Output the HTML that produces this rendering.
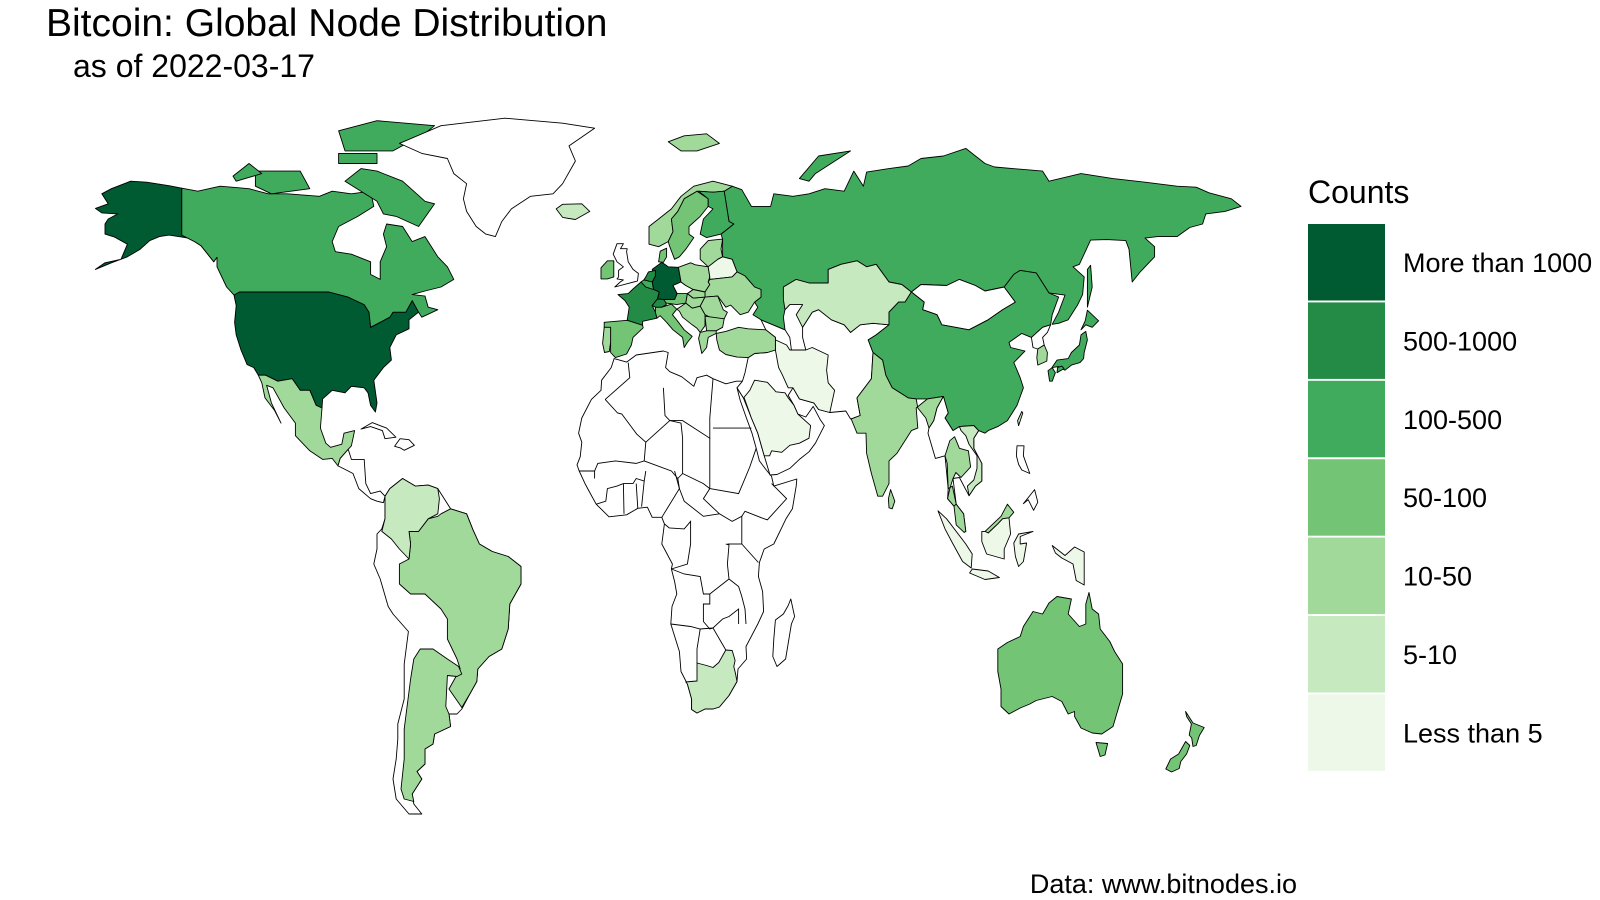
<!DOCTYPE html>
<html><head><meta charset="utf-8"><style>
html,body{margin:0;padding:0;background:#fff;}
svg{display:block;font-family:"Liberation Sans",Arial,sans-serif;}
</style></head><body>
<svg id="map" width="1600" height="900" viewBox="0 0 1600 900" xmlns="http://www.w3.org/2000/svg">
<rect width="1600" height="900" fill="#fff"/>
<text x="46" y="36" font-size="39">Bitcoin: Global Node Distribution</text>
<text x="73" y="77" font-size="32">as of 2022-03-17</text>
<g id="countries"></g>
<g id="legend">
<text x="1308" y="203" font-size="32">Counts</text>
</g>
<text x="1297" y="893" font-size="27" text-anchor="end">Data: www.bitnodes.io</text>
</svg>
<script>
// legend categories & colours
const legendLabels = ["More than 1000","500-1000","100-500","50-100","10-50","5-10","Less than 5"];
const legendColors = ["#005a32","#238b45","#41ab5d","#74c476","#a1d99b","#c7e9c0","#edf8e9"];
// category index per country (-1 = no data)
const countryNames = ["usa","alaska","canada","baffin","victoria-island","ellesmere","banks-island","devon-island","greenland","iceland","mexico","central-america","cuba","hispaniola","south-america","brazil","argentina","colombia-venezuela","africa","south-africa","madagascar","mideast-central-asia","saudi-arabia","iran","turkey","russia","novaya-zemlya","sakhalin","kazakhstan","mongolia","china","taiwan","north-korea","south-korea","japan-honshu","japan-kyushu","japan-hokkaido","japan-shikoku","india","sri-lanka","se-asia","thailand","vietnam","malaysia-peninsula","malaysia-borneo","sumatra","java","borneo-indonesia","sulawesi","new-guinea","luzon","mindanao","australia","tasmania","nz-north","nz-south","svalbard","germany","france","netherlands","belgium","uk","ireland","spain","portugal","italy","switzerland","austria","czechia","poland","denmark","norway","sweden","finland","baltics","belarus","ukraine","hungary","romania","bulgaria","greece","yugoslavia","slovakia"];
const countryCounts = [0,0,2,2,2,2,2,2,-1,5,4,-1,-1,-1,-1,4,4,5,-1,5,-1,-1,6,6,4,2,2,2,5,-1,2,5,-1,4,2,2,2,2,4,4,-1,4,5,4,4,6,6,6,6,6,-1,-1,3,3,3,3,4,0,1,1,2,-1,3,3,4,3,1,3,-1,4,3,4,3,2,4,6,4,4,4,4,4,4,4];
const shapes = {
usa:[[-124.7,48.4],[-123,49],[-95,49],[-89,48],[-84,46.5],[-82.5,45],[-82,42],[-79,43],[-76,44],[-75,45],[-71,45],[-69,47.3],[-67,45],[-70,43.5],[-70,41.7],[-74,40.5],[-76,38],[-75.5,35.5],[-78,34],[-81,31.5],[-80,27],[-80.5,25.2],[-82,26.5],[-82.8,29],[-84,30],[-88,30.3],[-90,29],[-94,29.5],[-97,27.8],[-97.2,26],[-99,26.5],[-101,29.5],[-104,29.5],[-106.5,31.8],[-111,31.3],[-114.8,32.5],[-117.1,32.5],[-118.5,34],[-120.6,34.6],[-122.5,37.5],[-124,40.5],[-124.5,43],[-124,46.3]],
alaska:[[-141,69.6],[-141,60.3],[-137,59],[-135,58.2],[-131,55],[-130,55.9],[-133,58.5],[-137,59.5],[-140,59.8],[-145,60.3],[-148,60],[-151,59.2],[-154,57.5],[-158,56],[-163,54.8],[-168,53.5],[-165,54.8],[-160,55.5],[-158,58.5],[-162,59.9],[-165,60.5],[-165,62.5],[-164,63.5],[-161,64.5],[-166,64.7],[-168,65.6],[-164,66.5],[-166,68.5],[-163,69.5],[-157,71],[-152,70.8],[-145,70.1]],
canada:[[-141,69.6],[-136,69],[-129,70],[-120,69.5],[-114,68.5],[-108,68.5],[-98,68],[-94,69],[-88,68.5],[-82,69],[-81,66],[-86,64],[-92,62],[-94,59],[-93,57],[-88,56.5],[-82,55],[-82,52.5],[-79,51.5],[-79,55],[-77,58],[-78,60.5],[-77,62.5],[-72,62],[-69,59],[-65,60],[-61,56],[-58,54],[-56,51.5],[-60,50],[-65,49.2],[-69,48.5],[-65,48.2],[-64,46],[-61,45.5],[-66,44],[-67,45],[-69,47.3],[-71,45],[-75,45],[-76,44],[-79,43],[-82,42],[-82.5,45],[-84,46.5],[-89,48],[-95,49],[-123,49],[-124.7,48.4],[-127,50],[-130,54],[-130,55.9],[-131,55],[-135,58.2],[-137,59],[-141,60.3]],
baffin:[[-80,73],[-72,71],[-65,67],[-62,66.5],[-67,62],[-74,64],[-78,64.5],[-80,67],[-90,71],[-85,73.5]],
"victoria-island":[[-118,73],[-104,73],[-101,69.5],[-113,68.5],[-118,70]],
ellesmere:[[-90,77],[-75,77],[-65,80.5],[-62,82],[-80,83],[-92,81]],
"banks-island":[[-125,72],[-120,74.5],[-116,72.5],[-124,71]],
"devon-island":[[-92,76.5],[-80,76.5],[-80,74.5],[-92,74.5]],
greenland:[[-73,78.5],[-60,82],[-40,83.5],[-22,82.5],[-12,81.5],[-20,78],[-18,75],[-22,70.5],[-25,68.5],[-32,68],[-38,65.5],[-41,63],[-43,60],[-46,60.5],[-49,62],[-52,65],[-53,67.5],[-52,70.5],[-56,72.5],[-58,75.5],[-66,76.5]],
iceland:[[-24,65.5],[-22,66.4],[-16,66.5],[-13.5,65],[-18,63.4],[-22,63.8]],
mexico:[[-117.1,32.5],[-114.8,32.5],[-111,31.3],[-106.5,31.8],[-104,29.5],[-101,29.5],[-99,26.5],[-97.2,26],[-97.7,22],[-96,19],[-94.5,18.2],[-91,18.8],[-90.3,21],[-87,21.5],[-88,18.5],[-89,17.8],[-91.5,16],[-92.2,14.5],[-94,16],[-97,15.8],[-101,17.5],[-105.5,20.5],[-105.5,23],[-109,26],[-112.5,30],[-114.5,30.5],[-113,27],[-110,23],[-112,25.5],[-115,28],[-116,31]],
"central-america":[[-92.2,14.5],[-91.5,16],[-89,17.8],[-88,15.8],[-84,15.8],[-83.5,11],[-82,9],[-79,9.5],[-77.5,8.5],[-78,7.2],[-80,7.5],[-82,8],[-85.7,10],[-87.5,13],[-90,13.8]],
cuba:[[-85,21.8],[-81.5,23.1],[-77,22],[-74.1,20.2],[-77.5,19.9],[-78.3,21.5],[-82,22.3]],
hispaniola:[[-74.5,18.4],[-72.8,19.9],[-70,19.7],[-68.3,18.6],[-71.5,17.6],[-72.8,18.1]],
"south-america":[[-77.5,8.5],[-76,10],[-72,12],[-68,10.5],[-64,10.7],[-61,10],[-57,6],[-52,5],[-50,1.8],[-48,-1],[-44,-2.5],[-39,-3.5],[-35,-5.5],[-35,-9],[-38.5,-13],[-39,-18],[-41,-22],[-45,-23.5],[-48.5,-26],[-48.8,-28.5],[-51,-31],[-53.5,-34],[-55,-35],[-57.5,-35],[-57,-37.5],[-62,-39],[-62.5,-41],[-65,-42],[-65,-45],[-67.5,-46.5],[-66,-48],[-69,-51],[-68.5,-53],[-66,-55],[-70,-55],[-74,-52],[-75,-48],[-74,-44],[-73.5,-40],[-73.5,-37],[-71.5,-32],[-71.5,-25],[-70.2,-18.5],[-75,-15],[-76.5,-13.5],[-79,-8],[-81,-5],[-80,-2],[-80,1],[-78.5,2],[-77.5,4],[-77.5,7]],
brazil:[[-60,5],[-57,6],[-52,5],[-50,1.8],[-48,-1],[-44,-2.5],[-39,-3.5],[-35,-5.5],[-35,-9],[-38.5,-13],[-39,-18],[-41,-22],[-45,-23.5],[-48.5,-26],[-48.8,-28.5],[-51,-31],[-53.5,-33.7],[-57.5,-30],[-54,-26],[-55,-24],[-58,-20],[-58,-16],[-60,-14],[-65,-11],[-69.5,-11],[-73,-9],[-73,-5],[-70,-4],[-69.5,-1],[-70,1.5],[-67,1.5],[-64,4],[-61,4.5]],
argentina:[[-53.5,-27],[-55,-27.5],[-58,-27.3],[-58.5,-33.5],[-57.5,-35],[-57,-37.5],[-62,-39],[-62.5,-41],[-65,-42],[-65,-45],[-67.5,-46.5],[-66,-48],[-69,-51],[-68.5,-52.5],[-71.5,-52],[-72.5,-50],[-71.5,-44],[-71.5,-38],[-70.5,-33],[-69.5,-28],[-68.5,-24],[-66.5,-22],[-62.5,-22],[-58,-24],[-54.5,-25.5]],
"colombia-venezuela":[[-77.5,8.5],[-76,10],[-72,12],[-68,10.5],[-64,10.7],[-61,10],[-60.5,8],[-61,5],[-64,4],[-67,1.5],[-70,1.5],[-69.5,-1],[-70,-4],[-73,-2],[-75.5,0],[-78.5,1.5],[-77.5,4],[-77.5,7]],
africa:[[-17,21],[-16,24],[-13,27.7],[-10,29.5],[-9.8,31.5],[-6.8,34],[-5.9,35.8],[-2,35.1],[1,36.5],[9.5,37.3],[11,37],[10.2,34],[11.5,33.2],[15.2,32.2],[19,30.3],[20,32],[23,32.5],[25,31.8],[29,30.8],[32.3,31.3],[34.2,31.3],[34.5,28],[32.5,30],[33.5,27.5],[35.5,23.9],[37.2,21],[38.5,18],[39.5,15.5],[41.5,13.8],[43.3,12.4],[44,10.5],[51.2,11.9],[51,10.5],[49.8,6],[47.8,4],[44,-1],[41,-2],[39.5,-4.7],[39.2,-7.5],[40.5,-10.5],[40.8,-14.5],[39,-17],[35.3,-21.5],[35.5,-24],[32.8,-26],[32.5,-28.5],[30,-31.3],[27,-33.6],[25,-34],[22.5,-34],[20,-34.8],[18.3,-34.1],[18.3,-32],[17,-29],[15,-26.5],[14.5,-22.5],[11.8,-17],[12.2,-13.5],[13.7,-11],[13,-8.5],[12,-6],[12.3,-5],[9,-1],[9.8,3],[9,4.3],[6,4.3],[4.5,6.3],[1.5,6.1],[-2,4.8],[-7.5,4.4],[-11.5,6.9],[-13.3,9],[-15,11],[-16.8,13.5],[-17.5,14.7],[-16.5,16.3],[-16,19.2]],
"south-africa":[[16.5,-28.6],[17,-29],[18.3,-32],[18.3,-34.1],[20,-34.8],[22.5,-34],[25,-34],[27,-33.6],[30,-31.3],[32.5,-28.5],[32,-26.8],[31.5,-25.5],[31.9,-24.3],[31,-22.3],[29,-22.2],[26.8,-24.7],[25,-25.7],[23,-25.3],[20,-24.8],[20,-28.4],[18,-28.5]],
madagascar:[[49.3,-12],[50.5,-15.5],[49.5,-17],[47.7,-24],[45,-25.5],[43.7,-23.5],[44,-20],[44.5,-16.2],[47,-15],[48.5,-13.3]],
"mideast-central-asia":[[36,36],[35,33],[34.2,31.3],[32.5,30],[34.5,28],[37,24],[39,21],[41,16.5],[42.8,12.7],[45,12.8],[49,14],[52,15.8],[55,17.3],[57,19],[59.8,22.5],[58.5,23.7],[56.3,26.3],[54,24.2],[51.5,24.8],[50.3,26.5],[48.5,28.5],[50,30],[52,27.8],[56.5,27],[58,25.7],[61.5,25.1],[66.5,25.4],[68,23.8],[71,24.5],[70,28],[74.5,31.8],[75,37],[73.5,39.5],[76,40.5],[80,42.5],[75,42.8],[71,42.5],[68,41],[66,42.5],[62,43.5],[58,45.5],[56,45],[53,42],[53,40],[54,37.5],[49.5,37.5],[49,40],[47.5,41.5],[40,43.5],[41.5,41.5],[44.5,40],[44.5,37.5],[42,37],[38,36.8]],
"saudi-arabia":[[36.5,29.5],[38,31.5],[42,31.1],[44.7,29.2],[47.5,29],[48.5,28],[50.3,26.5],[51.5,24.8],[55.5,22.5],[55,20],[52,19],[49,18.6],[46.5,17.2],[43.3,17.5],[42.7,16.5],[41,16.5],[39,21],[37,24],[34.7,28.1]],
iran:[[44.5,39.5],[48,38.5],[49,37.5],[54,37.5],[56,38],[61,36.5],[60.5,33.5],[61,31],[63,29.5],[61.5,25.1],[58,25.7],[56.5,27],[52,27.8],[50,30],[48.5,30],[46.5,32.8],[45.5,34],[44.5,37.5]],
turkey:[[26,40.8],[29,41.2],[33,42],[36,41.7],[41.5,41.5],[44.5,40],[44.5,37.5],[42,37],[38,36.8],[36,36],[32.5,36.1],[29,36.6],[27,37.5],[26.2,39.5]],
russia:[[28,59.5],[28,56],[31,55.5],[32.5,53],[35,52.2],[38,50],[40,49.5],[40,48],[38,47],[39,46],[37.5,44.5],[40,43.5],[47.5,41.5],[47,44],[47.5,45.5],[49,46.5],[47,48],[47,50],[51,51.5],[55,50.8],[61,50.8],[61,53.5],[65,54.5],[70,55.2],[73,54],[76,54.5],[80,51],[84,50.5],[87,49],[90,50.5],[98,50.3],[102,51.5],[107,50.3],[110,49.2],[116,50],[119,52.5],[121,53.3],[126,52.8],[130,48.8],[135,48.4],[133,45],[131,42.6],[133,42.8],[136,43.5],[139,46.5],[140.5,48.5],[141,52],[137.5,54],[139.5,54.5],[143,59.3],[148,59.4],[154,59.2],[155,57.5],[156,51],[158.5,53],[163,56],[163,58],[160,59.7],[164,60],[170,60],[174,61.8],[178,62.5],[179,64.5],[185,65],[190,66],[187,67.5],[180,68.7],[176,69.8],[170,70],[160,70.8],[150,71.5],[140,72.5],[130,71],[128,73],[113,73.8],[110,74.5],[104,77.5],[97,76],[90,75.5],[86,74],[80,73.5],[73,72.8],[72,70],[69,73],[66,69],[60,69.5],[55,68.5],[50,68],[44,68.5],[43,66],[37,66],[34,69.3],[31,70],[28.5,69],[29,67],[30,63],[31.5,62.5],[27.5,60.5]],
"novaya-zemlya":[[52,71.5],[58,76],[68,77],[57,72.5],[55,71]],
sakhalin:[[142,46],[143.5,50],[143,54.3],[142,53.5],[142,49]],
kazakhstan:[[47,50],[51,51.5],[55,50.8],[61,50.8],[61,53.5],[65,54.5],[70,55.2],[73,54],[76,54.5],[80,51],[84,50.5],[87,49],[85,47],[83,47],[80,45],[80,42.5],[75,42.8],[71,42.5],[68,41],[66,42.5],[62,43.5],[58,45.5],[56,45],[53,42],[51,44.5],[53,46.5],[49,46.5],[47.5,45.5],[47,47.5]],
mongolia:[[87,49],[90,50.5],[98,50.3],[102,51.5],[107,50.3],[110,49.2],[116,50],[119.5,47],[115.5,45.5],[111,43.5],[105,41.5],[96.5,42.5],[95,44.5],[90.5,45.5],[91,47]],
china:[[73.5,39.5],[75,37],[78,35.5],[79,32.5],[81,30],[86,28],[88.5,27.8],[92,27.8],[97,28.3],[98.5,25],[97.5,24],[100,21.5],[102,22.3],[106.5,22.5],[108,21.5],[110,21],[111,21.5],[114,22.3],[117,23.5],[120,26.5],[122,30],[121,32],[119,35],[122.5,37.3],[118,38],[117.5,39],[121.5,40.8],[124.5,40],[128,42],[130.5,42.5],[131,44.5],[133,48],[130,48.8],[126,52.8],[121,53.3],[119,52.5],[116,50],[119.5,47],[115.5,45.5],[111,43.5],[105,41.5],[96.5,42.5],[95,44.5],[90.5,45.5],[91,47],[87,49],[85,47],[83,47],[80,45],[80,42.5],[76,40.5]],
taiwan:[[120.5,22.5],[121.8,25],[121.5,25.3],[120.2,23.5]],
"north-korea":[[124.5,40],[128,42],[130.5,42.5],[129.5,41],[128,40],[128.5,38.5],[126.5,37.7],[125,38]],
"south-korea":[[126.5,34.5],[129.3,35.3],[129.5,37],[128.5,38.5],[126.5,37.7],[126.2,36]],
"japan-honshu":[[130.9,34],[132.5,35.5],[136,35.8],[137,37],[139.5,38.5],[140,40.5],[141.5,41.2],[142,39.5],[141,37],[140.8,35.8],[139.7,35],[137,34.5],[135,33.5],[133,34.2]],
"japan-kyushu":[[129.7,33.4],[131,34],[132,33],[131,31.3],[130.2,31.3]],
"japan-hokkaido":[[140,41.5],[141.5,42.5],[143.5,42],[145.5,43.3],[142,45.4],[141.3,43.3]],
"japan-shikoku":[[132.5,33],[134.7,33.8],[134,34.3],[132.7,34]],
india:[[68.2,23.8],[70,21],[72.8,21],[73,17],[74.5,13],[76.5,8.5],[78,8.5],[80,11],[80,15.5],[82.5,17],[87,21.5],[89,22],[88.5,26],[92,27.8],[97,28.3],[95,26],[94,23.5],[92.5,22],[91.5,24],[89,26],[88.5,27.8],[86,28],[81,30],[79,32.5],[78,35.5],[75,37],[74.5,31.8],[70,28],[71,24.5]],
"sri-lanka":[[79.8,8],[80.5,9.8],[81.8,7.5],[81,6],[80,6.2]],
"se-asia":[[92.2,21],[94.5,16],[97.5,16.5],[98.5,10],[98.3,8],[100.3,6.5],[103.5,1.3],[104,1.5],[103.3,5],[101,6.9],[100,12],[102,12.2],[105,8.6],[107,10.5],[109,11.5],[109,15],[106.5,18],[106.5,20],[108,21.5],[106.5,22.5],[102,22.3],[100,21.5],[97.5,24],[98.5,25],[97,28.3],[95,26],[94,23.5],[92.5,22]],
thailand:[[97.5,16.5],[99,19.5],[100.5,20.3],[102,18],[104.8,17.5],[105.5,14.3],[102.5,12.2],[100.9,13.2],[100,12],[99,10],[98.3,8],[100.3,6.5],[101,6.9],[99.8,10.5],[98.5,10],[98.2,15]],
vietnam:[[102,22.3],[106.5,22.5],[108,21.5],[106.5,20],[106.5,18],[109,15],[109,11.5],[107,10.5],[105,8.6],[104.5,10.5],[106.5,11.7],[107.5,14],[107.5,16.5],[105,18.8],[104,20.5],[102.5,21.5]],
"malaysia-peninsula":[[100.3,6.5],[101,6.9],[103.3,5],[104,1.5],[103.5,1.3],[101,2.8]],
"malaysia-borneo":[[110,1.5],[115,4.5],[117,6.9],[119,5.3],[117.5,4.2],[115.5,4],[114,3],[111,1.2]],
sumatra:[[95.3,5.6],[98,4],[104,-1],[106,-3],[105.7,-5.8],[103,-4.5],[100,-1],[97.5,2]],
java:[[105.2,-6.8],[106,-6],[111,-6.4],[114.5,-7.7],[110,-8.1]],
"borneo-indonesia":[[109,1.5],[110,1.5],[111,1.2],[114,3],[115.5,4],[117.5,4.2],[118,1],[116,-2],[116,-4],[110.5,-3],[109,-0.5]],
sulawesi:[[119,-0.8],[120.5,1],[125,1.5],[121,0.5],[121,-1],[123,-0.8],[122,-4.5],[120.5,-5.5],[119.5,-3.5]],
"new-guinea":[[131,-1.3],[135,-3.3],[138,-1.6],[141,-2.6],[141,-9.2],[138.5,-8.3],[137.5,-5],[134,-3.8],[132,-2.8]],
luzon:[[120,18.5],[122.2,18.5],[122,16.5],[124,13],[121.5,13.7],[120.5,14.8],[119.8,16.5]],
mindanao:[[122,7],[125.5,9.8],[126.5,7.3],[125.2,5.7],[123.5,7.8]],
australia:[[114,-22],[114,-26.5],[115,-30],[115,-33.5],[117.5,-35],[121,-33.8],[124,-33],[126,-32.3],[131,-31.5],[134,-32.5],[136,-35],[138,-34.5],[138,-35.5],[140,-37.8],[143.5,-38.8],[146.5,-39],[150,-37.5],[153,-31],[153,-25],[150.5,-22.5],[149,-20.5],[146,-18],[145.5,-15],[143.5,-14],[142.5,-10.7],[141.5,-13],[141.5,-17],[139.5,-17.5],[136,-15],[137,-12],[132.5,-11.5],[130,-12.8],[128,-15],[125,-14.5],[122,-17.5],[121,-19.5],[117,-20.7]],
tasmania:[[144.7,-40.7],[148.3,-40.9],[147.5,-43.2],[146,-43.5]],
"nz-north":[[172.7,-34.5],[175,-36.8],[178.5,-37.7],[177,-39.3],[176,-41.3],[175,-41.5],[174.6,-39.8],[173.8,-39.2],[174.5,-37],[173,-35.5]],
"nz-south":[[172.7,-40.5],[174,-41.3],[173,-43],[171.2,-44.5],[170.7,-45.9],[168.3,-46.6],[166.5,-46],[168,-44],[170.5,-43]],
svalbard:[[11,78.8],[16,80],[23,80.4],[27,78.5],[20,77],[15,77]],
germany:[[6,53.5],[9,54.9],[11,54],[14.2,53.9],[14.6,52.5],[15,51],[12.5,50.3],[13.8,48.7],[13,47.5],[10,47.5],[7.6,47.6],[8.2,49],[6.4,49.5],[6,51],[7,52.2]],
france:[[2.5,51],[4,50],[6.4,49.5],[8.2,49],[7.6,47.6],[6,46.3],[7,45],[7.5,43.8],[3,43.2],[3,42.4],[-1.8,43.4],[-1.2,46],[-2.5,47.3],[-4.7,48.5],[-1.5,48.7],[0,49.6]],
netherlands:[[3.4,51.4],[6,51],[7,52.2],[7,53.3],[4.8,53],[4,52]],
belgium:[[2.5,51],[3.4,51.4],[6,51],[6.4,49.5],[4,50]],
uk:[[-5.7,50],[1.4,51.2],[1.7,52.7],[0,53.5],[-1.5,55],[-2,57],[-1.8,57.6],[-3.9,57.6],[-3,58.6],[-5,58.6],[-6.2,56.5],[-5,55],[-3,54],[-4.5,53.3],[-4.5,52],[-5,51.6],[-3,51.4],[-4,51]],
ireland:[[-6,52],[-6,53.5],[-6,55.2],[-8,55.2],[-10,53.8],[-10,51.6],[-8,51.6]],
spain:[[-9,43],[-1.8,43.4],[3,42.4],[3.2,41.9],[0,40],[-0.5,38.5],[-2,36.7],[-5.5,36],[-7,37],[-7,39],[-7,42],[-9,42]],
portugal:[[-9,42],[-7,42],[-7,39],[-7.4,37.2],[-8.9,37],[-9.5,38.8]],
italy:[[7,45],[7.5,43.8],[8.5,44.3],[10.5,43],[12.5,41.5],[15.5,40],[16,38],[17,39],[18.5,40.2],[16,41.5],[13.5,43.6],[12.3,44.5],[13.7,45.6],[12,46.6],[9,46],[7,46]],
switzerland:[[6,46.3],[7.6,47.6],[10,47.5],[10.4,46.5],[9,46],[7,46]],
austria:[[9.6,47.5],[13,47.5],[13.8,48.7],[17,48.7],[16.5,46.8],[13.7,46.5],[10.4,46.8]],
czechia:[[12.5,50.3],[15,51],[16.5,50.3],[18.8,49.5],[17,48.7],[13.8,48.7]],
poland:[[14.2,53.9],[18,54.8],[19.5,54.4],[23.5,54],[24,52],[23.5,51],[24,50.5],[22.5,49],[18.8,49.5],[16.5,50.3],[15,51],[14.6,52.5]],
denmark:[[8,55],[8.5,57.1],[10.5,57.7],[10.5,56],[9.5,54.9]],
norway:[[5,58.5],[5,62],[8,63.5],[12,65.5],[15,68],[19,70],[25,71],[31,70],[28.5,69],[25,68.8],[20,69],[16,67.5],[14,65],[12,63.5],[12.5,61],[11,59],[8,58]],
sweden:[[11,59],[12.5,61],[12,63.5],[14,65],[16,67.5],[20,69],[23.5,67.5],[23.5,66],[21,64],[17.5,62],[17.5,60.5],[19,59.8],[16.5,57.5],[14.5,56],[13,55.5],[11.5,58]],
finland:[[21,60.5],[22,63.5],[25,65.5],[23.5,66],[23.5,67.5],[20.5,69],[25,68.8],[28.5,69],[29,67],[30,63],[31.5,62.5],[27.5,60.5],[23,59.8]],
baltics:[[21,56],[21,57.5],[23.5,59.2],[28,59.5],[27.5,57.5],[28,56],[26.5,55.5],[23.5,54],[21,55.5]],
belarus:[[23.5,54],[26.5,55.5],[28,56],[31,55.5],[32.5,53],[31,52],[24,51.5],[24,52]],
ukraine:[[24,50.5],[22.5,49],[22.5,48],[26.5,48.2],[29,46],[30.5,46.4],[33.5,44.5],[36,45],[38,47],[40,48],[40,49.5],[38,50],[35,52.2],[32.5,53],[31,52],[24,51.5],[23.5,51]],
hungary:[[16.5,46.8],[17,48.7],[18.8,47.8],[22.5,48],[21,46.2],[18.5,45.8]],
romania:[[22.5,48],[26.5,48.2],[28.2,45.5],[29.5,45],[28.5,43.7],[25,43.7],[22.5,44.5],[21,46.2]],
bulgaria:[[22.5,44.2],[28.5,43.7],[28,42],[26,41.3],[23,41.3]],
greece:[[20.5,39.8],[21,41],[23,41.3],[26,41.3],[26,40.8],[23.5,40],[23,38],[21.5,36.8],[21,38.3]],
yugoslavia:[[13.7,45.6],[16.5,46.8],[18.5,45.8],[21,46.2],[22.5,44.5],[22.5,42.3],[21,41],[20,41.8],[18.5,42.5],[15.5,44],[14.5,45.2]],
slovakia:[[17,48.7],[18.8,49.5],[22.5,49],[22.5,48],[18.8,47.8]]
};
// internal African borders (decorative, white countries)
const africaBorders = [
[[-8.7,27.7],[-4.8,25],[-3.5,24.8],[1.2,20.8],[4,19.2],[3.5,15.5],[1,15],[-5.5,15.5],[-11,15],[-12,13.5]],
[[-8.7,27.7],[-1,32],[-1.5,35]],[[9.5,30],[10,24.5],[11.5,23.5],[15.5,23.5],[24,20],[24,24],[25,31.8]],
[[11.5,23.5],[15,23],[15.5,20],[15.5,13],[14,12],[14.5,10]],[[4,19.2],[11.5,23.5]],[[3.5,15.5],[12,13.5],[14,12]],
[[25,22],[37,22]],[[24,20],[24,10],[22,8],[27,5],[31,3.5],[34,4.5],[35,5.5],[41,4],[42,3.8],[48,8],[43.3,11]],
[[24,10],[33,9],[34,10.5],[36.5,14.3],[38.5,18]],[[15.5,13],[22,11],[24,10]],[[14.5,10],[16,7.5],[22,4.5],[27,5]],
[[9.8,3],[11.3,2.2],[16,2],[18,3.5],[18,-1],[17,-5],[12,-6]],[[29,-1],[30,-1.2],[29.5,-5],[30,-8],[33,-9.5],[34,-11.5],[35,-14],[35.3,-17]],
[[34,4.5],[34,-1],[37.5,-3.5],[39.2,-4.7]],[[29.5,-1],[34,-1]],[[12,-6],[16,-7],[21,-7.5],[22,-11],[24,-11],[24,-13],[22,-13],[22,-16.5],[24,-18],[25,-17.8],[28,-16],[30,-15.5],[33,-14],[33,-17]],
[[11.8,-17],[18,-17.5],[21,-18],[25,-17.8]],[[20,-24.8],[20,-22],[21,-18]],[[25,-17.8],[27,-20],[29,-22.2]],[[30,-8],[24,-11]],
[[-11.5,6.9],[-8.5,7.5],[-8,10],[-5,10.5],[-3,11],[0,11],[1,12],[3.5,11.5],[4,13.5]],[[-2.8,5],[-3,11]],[[1.5,6.1],[1,11]],[[2.7,6.4],[3.5,11.5]],[[9,4.3],[14.5,10],[13,13.5]],[[-16.8,13.5],[-12,13.5],[-12,12]]
];
const southMargin = 5.0;
function X(lon){ return 633 + 3.2*lon; }
function Y(lat){ return lat >= 0 ? 539 - 5.04*lat : 539 - southMargin*lat; }
function pathOf(pts){ return 'M' + pts.map(p => X(p[0]).toFixed(1)+','+Y(p[1]).toFixed(1)).join('L') + 'Z'; }
const NS = 'http://www.w3.org/2000/svg';
const layer = document.getElementById('countries');
countryNames.forEach((name, i) => {
  const cat = countryCounts[i];
  const el = document.createElementNS(NS, 'path');
  el.setAttribute('d', pathOf(shapes[name]));
  el.setAttribute('fill', cat >= 0 ? legendColors[cat] : '#ffffff');
  el.setAttribute('stroke', '#000');
  el.setAttribute('stroke-width', '0.9');
  el.setAttribute('stroke-linejoin', 'round');
  
  
  layer.appendChild(el);
});
africaBorders.forEach((line, i) => {
  const el = document.createElementNS(NS, 'path');
  el.setAttribute('d', 'M' + line.map(p => X(p[0]).toFixed(1)+','+Y(p[1]).toFixed(1)).join('L'));
  el.setAttribute('fill', 'none');
  el.setAttribute('stroke', '#000');
  el.setAttribute('stroke-width', '0.9');
  
  
  layer.appendChild(el);
});
const legend = document.getElementById('legend');
legendLabels.forEach((lab, i) => {
  const top = 224 + i*78.4;
  const r = document.createElementNS(NS, 'rect');
  r.setAttribute('x', 1308); r.setAttribute('y', top);
  r.setAttribute('width', 77); r.setAttribute('height', 76.5);
  r.setAttribute('fill', legendColors[i]);
  
  
  legend.appendChild(r);
  const t = document.createElementNS(NS, 'text');
  t.setAttribute('x', 1403); t.setAttribute('y', top + 48);
  t.setAttribute('font-size', 27);
  t.textContent = lab;
  
  
  legend.appendChild(t);
});
</script>
</body></html>
